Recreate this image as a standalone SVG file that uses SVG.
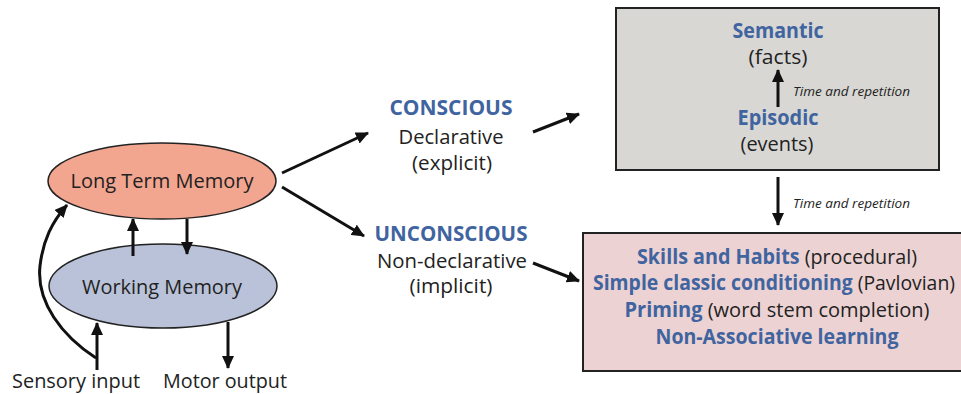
<svg xmlns="http://www.w3.org/2000/svg" width="961" height="394" viewBox="0 0 961 394">
  <defs>
    <marker id="head" markerUnits="userSpaceOnUse" markerWidth="14" markerHeight="12" refX="12" refY="6" orient="auto">
      <path d="M0,0 L13,6 L0,12 Z" fill="#111"/>
    </marker>
    <style>
      text { font-family: "Open Sans", "Noto Sans", "Liberation Sans", sans-serif; fill: #222; }
      .lbl { font-size: 20.5px; text-anchor: middle; }
      .blue { fill: #40649f; font-weight: bold; }
      .note { font-size: 12.5px; font-style: italic; fill: #222; }
      .edge { stroke: #111; stroke-width: 3; fill: none; marker-end: url(#head); }
    </style>
  </defs>
  <rect width="961" height="394" fill="#ffffff"/>

  <!-- memory systems on the left -->
  <g id="ltm">
    <ellipse cx="162" cy="181" rx="114" ry="38" fill="#f2a58f" stroke="#222" stroke-width="1.5"/>
    <text class="lbl" x="162" y="188" textLength="183" lengthAdjust="spacingAndGlyphs">Long Term Memory</text>
  </g>
  <g id="wm">
    <ellipse cx="163" cy="286" rx="114" ry="42" fill="#b9c2d8" stroke="#222" stroke-width="1.5"/>
    <text class="lbl" x="162" y="294" textLength="160" lengthAdjust="spacingAndGlyphs">Working Memory</text>
  </g>
  <g id="sensory">
    <text class="lbl" x="76" y="388" textLength="128" lengthAdjust="spacingAndGlyphs">Sensory input</text>
  </g>
  <g id="motor">
    <text class="lbl" x="225" y="388" textLength="124" lengthAdjust="spacingAndGlyphs">Motor output</text>
  </g>

  <!-- conscious / unconscious branches -->
  <g id="conscious">
    <text class="lbl blue" x="451" y="115" textLength="123" lengthAdjust="spacingAndGlyphs">CONSCIOUS</text>
    <text class="lbl" x="451" y="144" textLength="105" lengthAdjust="spacingAndGlyphs">Declarative</text>
    <text class="lbl" x="452" y="170" textLength="80" lengthAdjust="spacingAndGlyphs">(explicit)</text>
  </g>
  <g id="unconscious">
    <text class="lbl blue" x="451" y="241" textLength="153" lengthAdjust="spacingAndGlyphs">UNCONSCIOUS</text>
    <text class="lbl" x="452" y="268" textLength="150" lengthAdjust="spacingAndGlyphs">Non-declarative</text>
    <text class="lbl" x="451" y="293" textLength="83" lengthAdjust="spacingAndGlyphs">(implicit)</text>
  </g>

  <!-- declarative store -->
  <g id="declarative-box">
    <rect x="616" y="8" width="323" height="162" fill="#d8d7d3" stroke="#222" stroke-width="2"/>
    <text class="lbl blue" x="778" y="38" textLength="91" lengthAdjust="spacingAndGlyphs">Semantic</text>
    <text class="lbl" x="778" y="64" textLength="59" lengthAdjust="spacingAndGlyphs">(facts)</text>
    <text class="lbl blue" x="778" y="125" textLength="81" lengthAdjust="spacingAndGlyphs">Episodic</text>
    <text class="lbl" x="777" y="151" textLength="73" lengthAdjust="spacingAndGlyphs">(events)</text>
    <text class="note" x="793" y="96" textLength="117" lengthAdjust="spacingAndGlyphs">Time and repetition</text>
  </g>

  <!-- non-declarative store -->
  <g id="nondeclarative-box">
    <rect x="583" y="233" width="382" height="138" fill="#ecd2d2" stroke="#222" stroke-width="2"/>
    <text class="lbl" x="777" y="264" textLength="280" lengthAdjust="spacingAndGlyphs"><tspan class="blue">Skills and Habits</tspan> (procedural)</text>
    <text class="lbl" x="774" y="290" textLength="362" lengthAdjust="spacingAndGlyphs"><tspan class="blue">Simple classic conditioning</tspan> (Pavlovian)</text>
    <text class="lbl" x="777" y="317" textLength="305" lengthAdjust="spacingAndGlyphs"><tspan class="blue">Priming</tspan> (word stem completion)</text>
    <text class="lbl blue" x="777" y="344" textLength="243" lengthAdjust="spacingAndGlyphs">Non-Associative learning</text>
  </g>

  <g id="between-note">
    <text class="note" x="793" y="208" textLength="117" lengthAdjust="spacingAndGlyphs">Time and repetition</text>
  </g>

  <!-- connectors -->
  <g id="connectors">
    <line class="edge" x1="133" y1="256" x2="133" y2="219"/>
    <line class="edge" x1="187" y1="219" x2="187" y2="254"/>
    <line class="edge" x1="97" y1="370" x2="97" y2="323"/>
    <path class="edge" d="M96,358 C62,336 36,302 40,266 C43,240 52,222 67,205"/>
    <line class="edge" x1="228" y1="322" x2="228" y2="368"/>
    <line class="edge" x1="282" y1="173" x2="368" y2="133"/>
    <line class="edge" x1="282" y1="187" x2="364" y2="236"/>
    <line class="edge" x1="533" y1="132" x2="579" y2="114"/>
    <line class="edge" x1="533" y1="263" x2="579" y2="281"/>
    <line class="edge" x1="778" y1="107" x2="778" y2="70"/>
    <line class="edge" x1="778" y1="177" x2="778" y2="225"/>
  </g>
</svg>
